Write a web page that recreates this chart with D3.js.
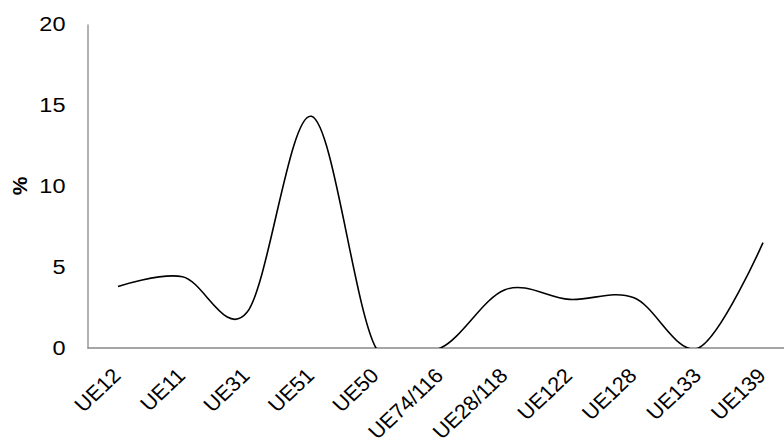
<!DOCTYPE html>
<html>
<head>
<meta charset="utf-8">
<script src="https://cdn.jsdelivr.net/npm/d3@7"></script>
<style>
  html, body { margin: 0; padding: 0; background: #fff; }
  svg { display: block; }
  text { font-family: "Liberation Sans", Arial, sans-serif; fill: #000; }
</style>
</head>
<body>
<svg id="chart" width="784" height="441"></svg>
<script>
const categories = ["UE12", "UE11", "UE31", "UE51", "UE50", "UE74/116", "UE28/118", "UE122", "UE128", "UE133", "UE139"];
const values = [3.8, 4.4, 2.2, 14.3, 0, 0, 3.6, 3.0, 3.1, 0, 6.5];
const yTicks = [0, 5, 10, 15, 20];
const yLabel = "%";

const svg = d3.select("#chart");
const plot = { left: 87.5, top: 24, bottom: 348, right: 784 };

const x = d3.scalePoint().domain(categories).range([118, 763]);
const y = d3.scaleLinear().domain([0, 20]).range([plot.bottom, plot.top]);

svg.append("defs").append("clipPath").attr("id", "clip")
  .append("rect")
  .attr("x", plot.left).attr("y", plot.top - 5)
  .attr("width", plot.right - plot.left).attr("height", plot.bottom - plot.top + 5);

// Y axis
const yAxis = d3.axisLeft(y).tickValues(yTicks).tickSize(0).tickPadding(22);
const gy = svg.append("g").attr("transform", `translate(${plot.left},0)`).call(yAxis);
gy.select(".domain").attr("stroke", "#898989").attr("stroke-width", 1.3);
gy.selectAll("text")
  .style("font-size", "21px")
  .attr("font-family", null)
  .attr("x", 0)
  .attr("transform", "translate(-22,0) scale(1.12,1)");

// X axis
const xAxis = d3.axisBottom(x).tickSize(0).tickFormat("");
const gx = svg.append("g").attr("transform", `translate(0,${plot.bottom})`).call(xAxis);
gx.select(".domain").attr("d", `M${plot.left},0H${plot.right}`)
  .attr("stroke", "#898989").attr("stroke-width", 1.3);

svg.append("g").selectAll("text").data(categories).join("text")
  .attr("transform", d => `translate(${x(d) + 4},377) scale(1.06,1) rotate(-45)`)
  .attr("text-anchor", "end")
  .style("font-size", "20.5px")
  .text(d => d);

// Y label
svg.append("text")
  .attr("transform", `translate(27,186) rotate(-90)`)
  .attr("text-anchor", "middle")
  .style("font-size", "21px")
  .style("font-weight", "bold")
  .text(yLabel);

// Line
const line = d3.line()
  .x((d, i) => x(categories[i]))
  .y(d => y(d))
  .curve(d3.curveCardinal.tension(0));

svg.append("path")
  .datum(values)
  .attr("clip-path", "url(#clip)")
  .attr("fill", "none")
  .attr("stroke", "#000")
  .attr("stroke-width", 1.6)
  .attr("d", line);
</script>
</body>
</html>
